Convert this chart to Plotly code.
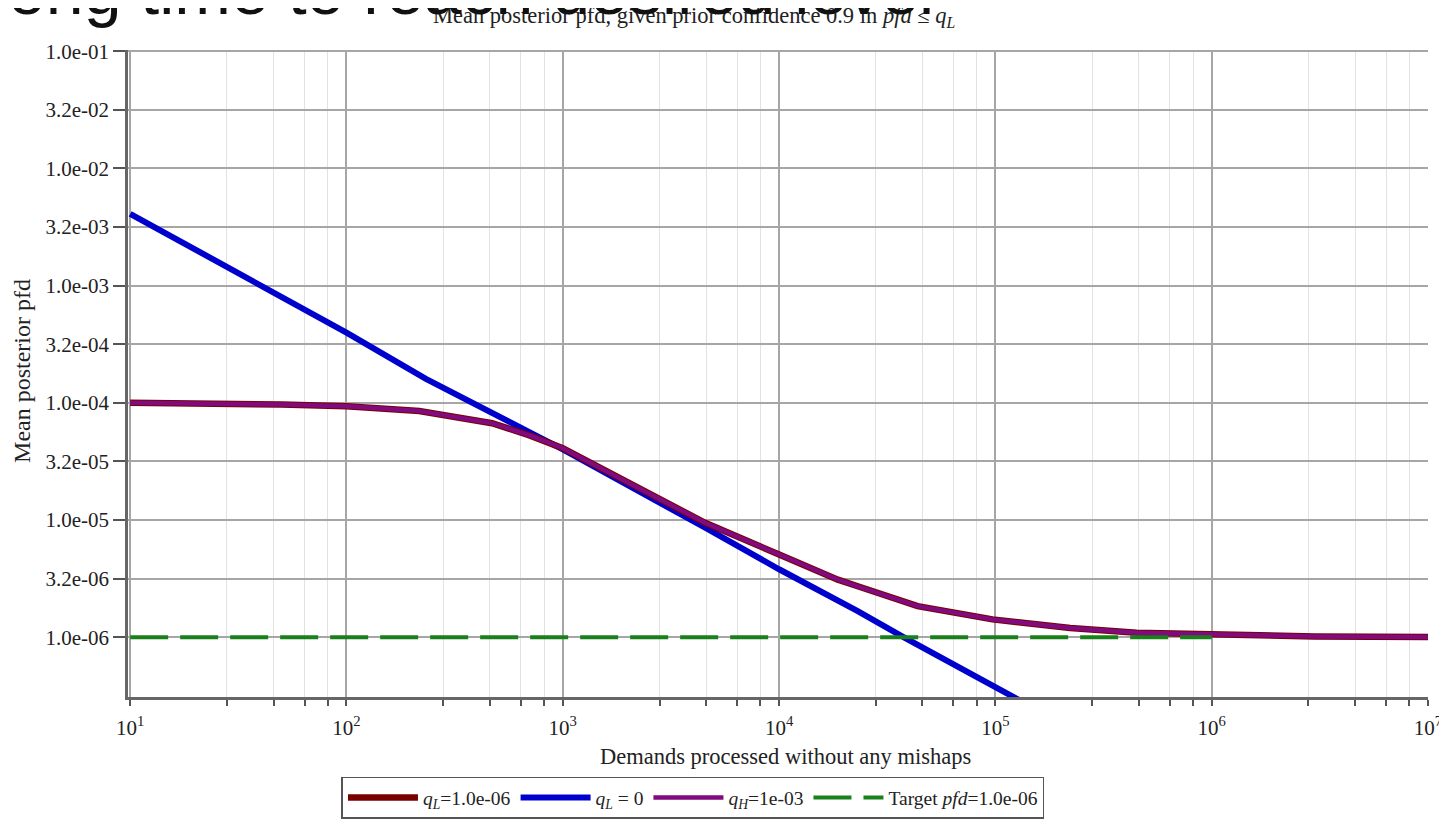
import plotly.graph_objects as go

# ---------------- data ----------------
n_main = [10, 20, 50, 100, 217, 471, 697, 1000, 2000, 4550, 1e4, 1.87e4,
          2.31e4, 4.37e4, 9.7e4, 2.22e5, 4.5e5, 1.3e6, 3e6, 1e7]
pfd_main = [1.0e-4, 9.9e-5, 9.65e-5, 9.35e-5, 8.5e-5, 6.7e-5, 5.3e-5, 4.1e-5,
            2.1e-5, 9.46e-6, 5.08e-6, 3.1e-6, 2.72e-6, 1.84e-6, 1.42e-6,
            1.2e-6, 1.09e-6, 1.035e-6, 1.015e-6, 1.005e-6]

n_blue = [10, 100, 233, 1000, 4550, 1e4, 2.31e4, 3.76e4, 1e5, 1.63e5]
pfd_blue = [4.1e-3, 3.97e-4, 1.6e-4, 4.0e-5, 8.6e-6, 3.8e-6, 1.67e-6, 1.0e-6,
            3.75e-7, 2.3e-7]

n_target = [10, 1e6]
pfd_target = [1.0e-6, 1.0e-6]

x_major = [1e1, 1e2, 1e3, 1e4, 1e5, 1e6, 1e7]
x_major_text = ["10<sup>1</sup>", "10<sup>2</sup>", "10<sup>3</sup>", "10<sup>4</sup>",
                "10<sup>5</sup>", "10<sup>6</sup>", "10<sup>7</sup>"]
x_minor_mult = [2.8, 4.6, 6.4, 8.2]

y_tick_vals = [1e-1, 3.1623e-2, 1e-2, 3.1623e-3, 1e-3, 3.1623e-4, 1e-4,
               3.1623e-5, 1e-5, 3.1623e-6, 1e-6]
y_tick_text = ["1.0e-01", "3.2e-02", "1.0e-02", "3.2e-03", "1.0e-03", "3.2e-04",
               "1.0e-04", "3.2e-05", "1.0e-05", "3.2e-06", "1.0e-06"]

x_minor = [m * d for d in x_major[:-1] for m in x_minor_mult]

SERIF = "Liberation Serif, Times New Roman, serif"

fig = go.Figure()

fig.add_trace(go.Scatter(
    x=n_blue, y=pfd_blue, mode="lines", name="<i>q</i><sub><i>L</i></sub> = 0",
    line=dict(color="#0000cc", width=6), legendrank=2))
fig.add_trace(go.Scatter(
    x=n_main, y=pfd_main, mode="lines", name="<i>q</i><sub><i>L</i></sub>=1.0e-06",
    line=dict(color="#7a0000", width=6.5), legendrank=1))
fig.add_trace(go.Scatter(
    x=n_main, y=pfd_main, mode="lines", name="<i>q</i><sub><i>H</i></sub>=1e-03",
    line=dict(color="#800a80", width=4.5), legendrank=3))
fig.add_trace(go.Scatter(
    x=n_target, y=pfd_target, mode="lines",
    name="Target <i>pfd</i>=1.0e-06",
    line=dict(color="#1a801a", width=4, dash="38px,12px"), legendrank=4))

fig.update_layout(
    width=1439, height=811,
    margin=dict(l=120, r=19, t=42, b=122, autoexpand=False),
    paper_bgcolor="white", plot_bgcolor="white",
    font=dict(family=SERIF, color="#222"),
    showlegend=True,
    legend=dict(orientation="h", x=0.4346, y=-0.156, xanchor="center", yanchor="middle",
                bordercolor="#555", borderwidth=1.5, bgcolor="white",
                font=dict(family=SERIF, size=19.5, color="#222"),
                itemwidth=70, tracegroupgap=0),
    xaxis=dict(
        type="log", range=[0.99, 7.0],
        tickmode="array", tickvals=x_major, ticktext=x_major_text,
        ticks="outside", ticklen=6, tickwidth=2, tickcolor="#555",
        ticklabelstandoff=4,
        tickfont=dict(family=SERIF, size=21, color="#222"),
        showline=True, linecolor="#666", linewidth=2.5,
        showgrid=True, gridcolor="#a6a6a6", gridwidth=1.5, zeroline=False,
        minor=dict(tickmode="array", tickvals=x_minor, ticks="outside", ticklen=6,
                   tickwidth=2, tickcolor="#555", showgrid=True,
                   gridcolor="#e2e2e2", gridwidth=1),
        automargin=False,
    ),
    yaxis=dict(
        type="log", range=[-6.51, -0.99],
        tickmode="array", tickvals=y_tick_vals, ticktext=y_tick_text,
        ticks="outside", ticklen=12, tickwidth=2, tickcolor="#555",
        tickfont=dict(family=SERIF, size=21, color="#222"),
        showline=True, linecolor="#666", linewidth=2.5,
        showgrid=True, gridcolor="#a6a6a6", gridwidth=1.5, zeroline=False,
        automargin=False,
    ),
    annotations=[
        dict(text="Mean posterior pfd, given prior confidence 0.9 in <i>pfd</i> ≤ <i>q</i><sub><i>L</i></sub>",
             xref="paper", yref="paper", x=0.436, y=1.051, xanchor="center", yanchor="middle",
             showarrow=False, font=dict(family=SERIF, size=22.5, color="#222")),
        dict(text="Demands processed without any mishaps",
             xref="paper", yref="paper", x=0.5054, y=-0.0927, xanchor="center", yanchor="middle",
             showarrow=False, font=dict(family=SERIF, size=22.5, color="#222")),
        dict(text="Mean posterior pfd",
             xref="paper", yref="paper", x=-0.0815, y=0.504, xanchor="center", yanchor="middle",
             textangle=-90, showarrow=False, font=dict(family=SERIF, size=24, color="#222")),
        dict(text="ong time to reach desired level",
             xref="paper", yref="paper", x=-0.094, y=1.031, xanchor="left", yanchor="bottom",
             showarrow=False, font=dict(family="Liberation Sans, Arial, sans-serif", size=68, color="#111")),
    ],
)

fig.write_html("out.html")
